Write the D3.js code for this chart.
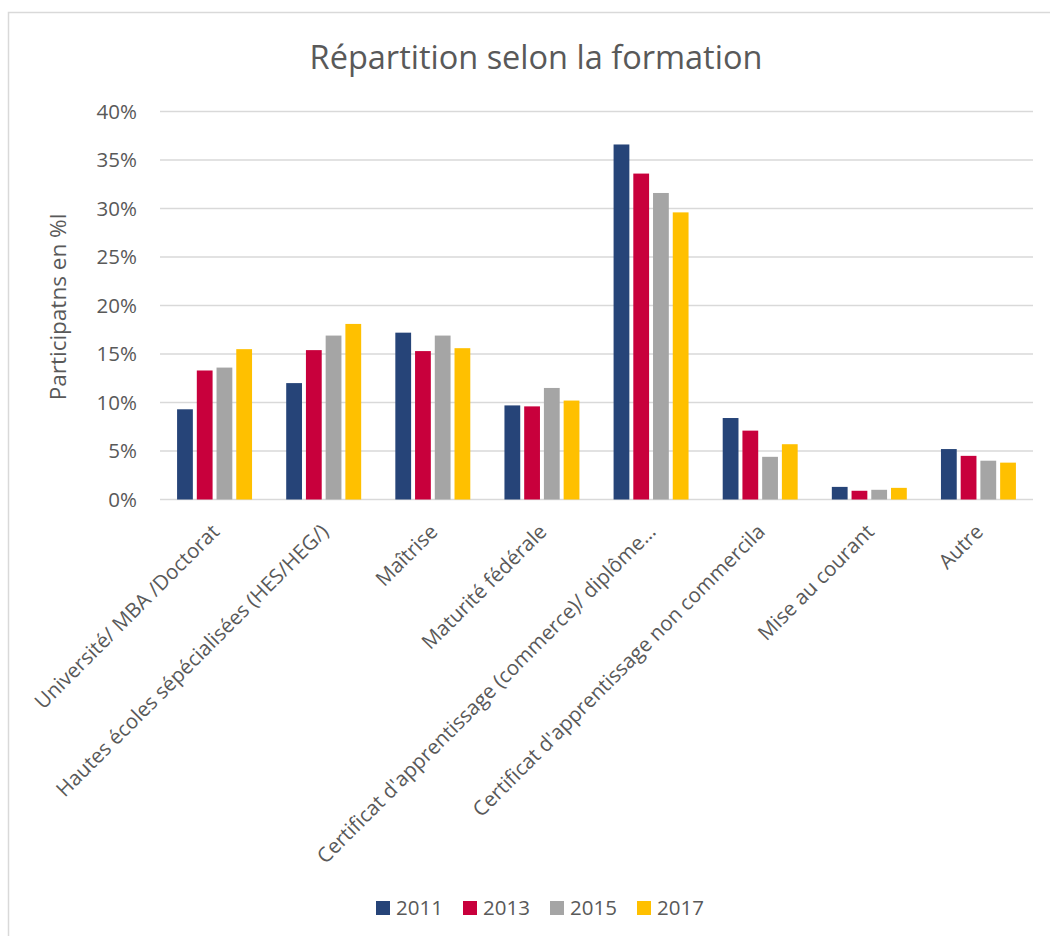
<!DOCTYPE html>
<html>
<head>
<meta charset="utf-8">
<script src="https://cdn.jsdelivr.net/npm/d3@7"></script>
<style>
  html, body { margin: 0; padding: 0; background: #fff; }
  svg { display: block; }
  text { font-family: "Open Sans", "Noto Sans", sans-serif; fill: #595959; }
</style>
</head>
<body>
<svg id="chart" width="1050" height="936"></svg>
<script>
const categories = [
  "Université/ MBA /Doctorat",
  "Hautes écoles sépécialisées (HES/HEG/)",
  "Maîtrise",
  "Maturité fédérale",
  "Certificat d'apprentissage (commerce)/ diplôme…",
  "Certificat d'apprentissage non commercila",
  "Mise au courant",
  "Autre"
];
const series = ["2011", "2013", "2015", "2017"];
const values2011 = [9.3, 12.0, 17.2, 9.7, 36.6, 8.4, 1.3, 5.2];
const values2013 = [13.3, 15.4, 15.3, 9.6, 33.6, 7.1, 0.9, 4.5];
const values2015 = [13.6, 16.9, 16.9, 11.5, 31.6, 4.4, 1.0, 4.0];
const values2017 = [15.5, 18.1, 15.6, 10.2, 29.6, 5.7, 1.2, 3.8];
const yTicks = [0, 5, 10, 15, 20, 25, 30, 35, 40];
const colors = ["#264478", "#C8003C", "#A5A5A5", "#FFC000"];
const title = "Répartition selon la formation";
const yTitle = "Participatns en %l";

const allValues = [values2011, values2013, values2015, values2017];

const svg = d3.select("#chart");

// chart border
svg.append("rect")
  .attr("x", 8.5).attr("y", 12.5)
  .attr("width", 1100).attr("height", 1000)
  .attr("fill", "#fff")
  .attr("stroke", "#d9d9d9").attr("stroke-width", 1.5);

const plotLeft = 160, plotRight = 1033, plotTop = 111.5, plotBottom = 499.5;

const x0 = d3.scaleBand().domain(categories).range([plotLeft, plotRight])
  .paddingInner(0.313).paddingOuter(0.1565);
const x1 = d3.scaleBand().domain(series).range([0, x0.bandwidth()])
  .paddingInner(0.2).paddingOuter(0);
const y = d3.scaleLinear().domain([0, 40]).range([plotBottom, plotTop]);

// gridlines
svg.append("g").selectAll("line").data(yTicks).join("line")
  .attr("x1", plotLeft).attr("x2", plotRight)
  .attr("y1", d => y(d)).attr("y2", d => y(d))
  .attr("stroke", "#d9d9d9").attr("stroke-width", 1.5);

// y tick labels
svg.append("g").selectAll("text").data(yTicks).join("text")
  .attr("x", 137).attr("y", d => y(d))
  .attr("dy", "0.35em")
  .attr("text-anchor", "end")
  .style("font-size", "20.5px")
  .text(d => d + "%");

// bars
const groups = svg.append("g").selectAll("g").data(categories).join("g")
  .attr("transform", d => `translate(${x0(d)},0)`);
groups.selectAll("rect")
  .data((c, i) => series.map((s, j) => ({ s, v: allValues[j][i], j })))
  .join("rect")
  .attr("x", d => x1(d.s))
  .attr("width", x1.bandwidth())
  .attr("y", d => y(d.v))
  .attr("height", d => y(0) - y(d.v))
  .attr("fill", d => colors[d.j]);

// x labels
svg.append("g").selectAll("text").data(categories).join("text")
  .attr("text-anchor", "end")
  .attr("transform", d => `translate(${x0(d) + x0.bandwidth() / 2 + 6},533) rotate(-45)`)
  .style("font-size", "20.5px")
  .text(d => d);

// title
svg.append("text")
  .attr("x", 536).attr("y", 69)
  .attr("text-anchor", "middle")
  .style("font-size", "32.5px")
  .text(title);

// y axis title
svg.append("text")
  .attr("transform", "translate(66,307) rotate(-90)")
  .attr("text-anchor", "middle")
  .style("font-size", "22.5px")
  .text(yTitle);

// legend
const legend = svg.append("g").selectAll("g").data(series).join("g")
  .attr("transform", (d, i) => `translate(${376 + i * 87},901)`);
legend.append("rect")
  .attr("width", 14).attr("height", 14)
  .attr("fill", (d, i) => colors[i]);
legend.append("text")
  .attr("x", 20).attr("y", 7)
  .attr("dy", "0.36em")
  .style("font-size", "20.5px")
  .text(d => d);
</script>
</body>
</html>
